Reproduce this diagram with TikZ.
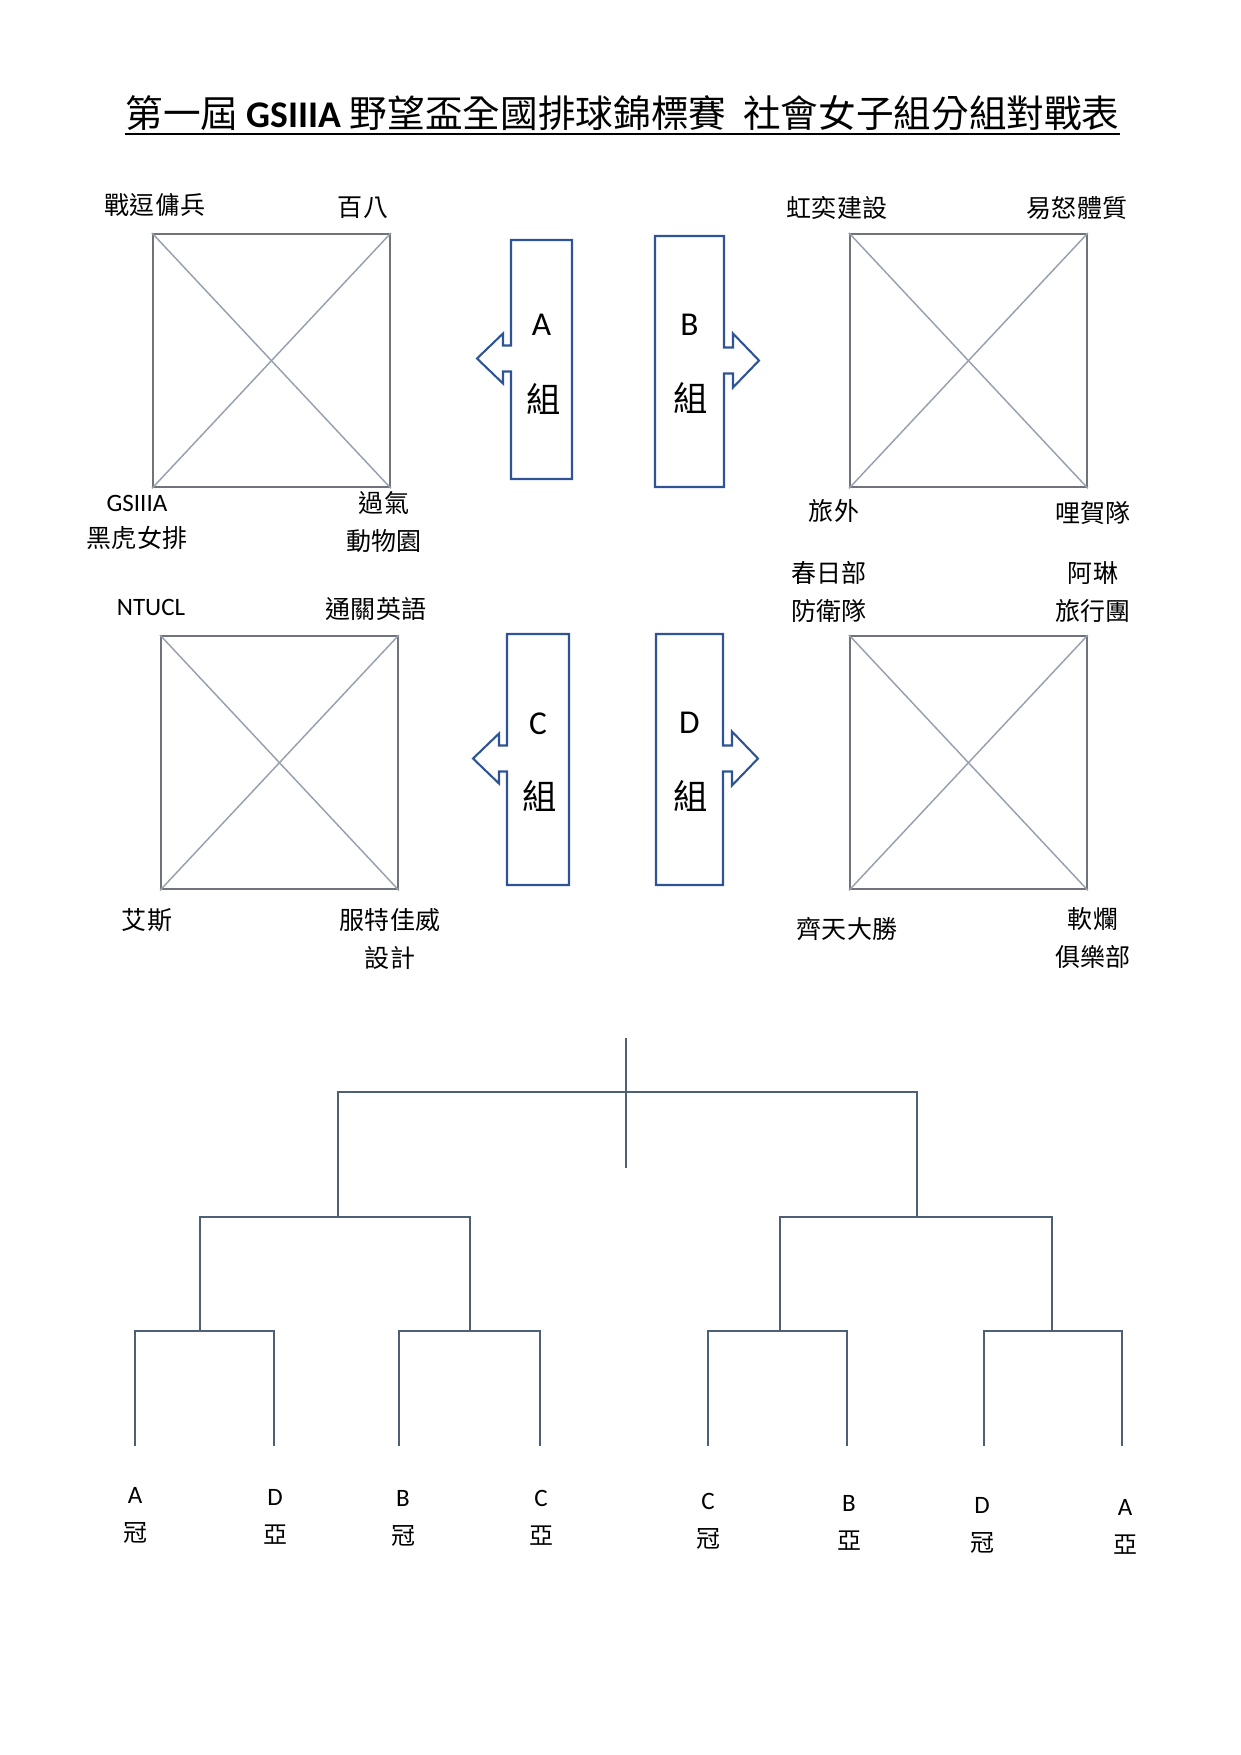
\documentclass[tikz,border=0pt]{standalone}
\usepackage{fontspec}
\setmainfont{Carlito}
\newfontfamily\cjk{Noto Sans CJK TC}
\usetikzlibrary{positioning}
\definecolor{framegray}{RGB}{112,116,122}
\definecolor{diaggray}{RGB}{150,160,174}
\definecolor{groupblue}{RGB}{47,84,150}
\definecolor{bracketblue}{RGB}{78,96,118}
\tikzset{
heading/.style={font=\fontsize{18.05}{22}\selectfont, inner sep=0pt},
team/.style={font=\cjk\fontsize{12}{18}\selectfont, inner sep=1pt, align=center},
teamlat/.style={font=\fontsize{12}{14}\selectfont, inner sep=1pt},
pool/.style={
  draw=framegray,
  line width=1pt,
  inner sep=0pt,
  anchor=north west,
  minimum width=113.6pt,
  minimum height=121.5pt,
},
diag/.style={draw=diaggray, line width=0.7pt},
grouptag/.style={draw=groupblue, line width=1pt, line join=miter},
tagletter/.style={font=\fontsize{16}{18}\selectfont, inner sep=0pt},
tagword/.style={font=\cjk\fontsize{16.5}{18}\selectfont, inner sep=0pt},
link/.style={draw=bracketblue, line width=0.7pt},
seed/.style={font=\fontsize{12}{14}\selectfont, inner sep=1pt},
seedrank/.style={font=\cjk\fontsize{11.5}{14}\selectfont, inner sep=1pt},
}
\begin{document}
\begin{tikzpicture}[x=0.4797pt, y=-0.4797pt]
\useasboundingbox (0,0) rectangle (1241,1755);

% title
\node[heading, anchor=base] (title) at (622.5,127.5) {{\cjk 第一屆} {\bfseries GSIIIA} {\cjk 野望盃全國排球錦標賽}\ \ {\cjk 社會女子組分組對戰表}};
\draw[line width=0.8pt] ([yshift=-3.2pt]title.base west) -- ([yshift=-3.2pt]title.base east);

% pools
\node[pool] (poolA) at (152,233) {};
\node[pool] (poolB) at (849,233) {};
\node[pool] (poolC) at (160,635) {};
\node[pool] (poolD) at (849,635) {};
\foreach \p in {poolA,poolB,poolC,poolD}{
  \draw[diag] (\p.north west) -- (\p.south east);
  \draw[diag] (\p.south west) -- (\p.north east);
}

% teams
\node[team] (a1) at (155,205) {戰逗傭兵};
\node[team] (a2) at (363,208) {百八};
\node[teamlat] (a3) at (137,503) {GSIIIA};
\node[team, below=5pt of a3] (a3b) {黑虎女排};
\node[team] (a4) at (384,522) {過氣\\動物園};
\node[team] (b1) at (837,208) {虹奕建設};
\node[team] (b2) at (1077,208) {易怒體質};
\node[team] (b3) at (834,511) {旅外};
\node[team] (b4) at (1093,513) {哩賀隊};
\node[teamlat] (c1) at (151,607) {NTUCL};
\node[team] (c2) at (376,609) {通關英語};
\node[team] (c3) at (147,920) {艾斯};
\node[team] (c4) at (390,939) {服特佳威\\設計};
\node[team] (d1) at (829,592) {春日部\\防衛隊};
\node[team] (d2) at (1093,592) {阿琳\\旅行團};
\node[team] (d3) at (847,929) {齊天大勝};
\node[team] (d4) at (1093,938) {軟爛\\俱樂部};

% group tags
\foreach \g/\l/\r/\t/\b/\dl/\dw in {A/511/572/240/479/85/159, C/507/569/634/885/90/162}{
  \pgfmathsetmacro\m{(\t+\b)/2-1}
  \draw[grouptag] (\l,\t) -- (\r,\t) -- (\r,\b) -- (\l,\b) -- (\l,\m+13) -- (\l-8,\m+13) -- (\l-8,\m+25)
    -- (\l-34,\m) -- (\l-8,\m-25) -- (\l-8,\m-13) -- (\l,\m-13) -- cycle;
  \node[tagletter] (tag\g) at ({(\l+\r)/2},\t+\dl) {\g};
  \node[tagword] (word\g) at ({(\l+\r)/2+2},\t+\dw) {組};
}
\foreach \g/\l/\r/\t/\b in {B/655/724/236/487, D/656/723/634/885}{
  \pgfmathsetmacro\m{(\t+\b)/2-1}
  \draw[grouptag] (\l,\t) -- (\r,\t) -- (\r,\m-13) -- (\r+9,\m-13) -- (\r+9,\m-27) -- (\r+35,\m)
    -- (\r+9,\m+27) -- (\r+9,\m+13) -- (\r,\m+13) -- (\r,\b) -- (\l,\b) -- cycle;
  \node[tagletter] (tag\g) at ({(\l+\r)/2},\t+89) {\g};
  \node[tagword] (word\g) at ({(\l+\r)/2+1},\t+162) {組};
}

% bracket
\foreach \x [count=\i] in {135,274,399,540,708,847,984,1122}
  \coordinate (leaf\i) at (\x,1446);
\coordinate (quarter1) at (200,1331);
\coordinate (quarter2) at (470,1331);
\coordinate (quarter3) at (780,1331);
\coordinate (quarter4) at (1052,1331);
\coordinate (semi1) at (338,1217);
\coordinate (semi2) at (917,1217);
\coordinate (final) at (626,1092);
\coordinate (cuptop) at (626,1038);
\coordinate (cupend) at (626,1168);

\draw[link] (leaf1) |- (quarter1) -| (leaf2);
\draw[link] (leaf3) |- (quarter2) -| (leaf4);
\draw[link] (leaf5) |- (quarter3) -| (leaf6);
\draw[link] (leaf7) |- (quarter4) -| (leaf8);
\draw[link] (quarter1) |- (semi1) -| (quarter2);
\draw[link] (quarter3) |- (semi2) -| (quarter4);
\draw[link] (semi1) |- (final) -| (semi2);
\draw[link] (cuptop) -- (cupend);

% seeds
\foreach \x/\y/\s/\r [count=\i] in {135/1495/A/冠, 275/1497/D/亞, 403/1498/B/冠, 541/1498/C/亞,
    708/1501/C/冠, 849/1503/B/亞, 982/1505/D/冠, 1125/1507/A/亞}{
  \node[seed] (seed\i) at (\x,\y) {\s};
  \node[seedrank] (rank\i) at (\x,\y+38) {\r};
}
\end{tikzpicture}
\end{document}
